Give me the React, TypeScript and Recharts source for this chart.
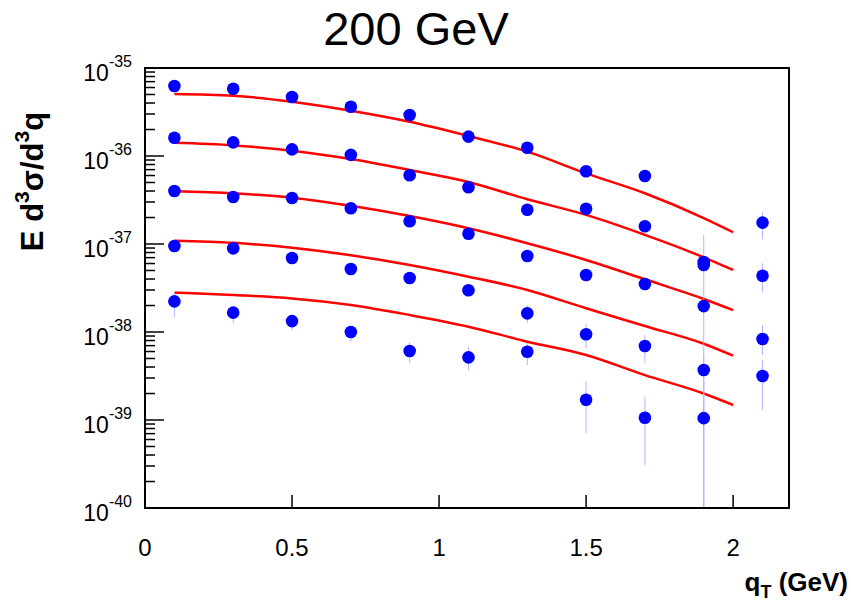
import React from "react";
import { ComposedChart, XAxis, YAxis, Line, Scatter, ErrorBar, ReferenceArea } from "recharts";

// measured points, qT in GeV
const qT = [0.1, 0.3, 0.5, 0.7, 0.9, 1.1, 1.3, 1.5, 1.7, 1.9, 2.1];
const set1 = [6.24e-36, 5.82e-36, 4.68e-36, 3.63e-36, 2.92e-36, 1.66e-36, 1.24e-36, 6.7e-37, 5.93e-37, 6.24e-38, 1.75e-37];
const set2 = [1.61e-36, 1.43e-36, 1.19e-36, 1.03e-36, 6.04e-37, 4.41e-37, 2.45e-37, 2.52e-37, 1.59e-37, 5.77e-38, 4.36e-38];
const set3 = [4.0e-37, 3.42e-37, 3.33e-37, 2.55e-37, 1.81e-37, 1.31e-37, 7.31e-38, 4.45e-38, 3.51e-38, 1.97e-38, 8.32e-39];
const set4 = [9.48e-38, 8.93e-38, 6.93e-38, 5.2e-38, 4.11e-38, 2.98e-38, 1.63e-38, 9.42e-39, 6.93e-39, 3.7e-39, 3.16e-39];
const set5 = [2.23e-38, 1.66e-38, 1.33e-38, 1.0e-38, 6.08e-39, 5.15e-39, 5.97e-39, 1.7e-39, 1.06e-39, 1.05e-39, null];

// error bar bounds (null = too small to see); 1e-40 = runs off the bottom
const low1 = [null, null, null, null, null, null, null, null, null, 1e-40, 1.13e-37];
const high1 = [null, null, null, null, null, null, null, null, null, 1.26e-37, 2.33e-37];
const low2 = [null, null, null, null, null, null, null, null, null, null, 2.8e-38];
const high2 = [null, null, null, null, null, null, null, null, null, null, 6.04e-38];
const low3 = [null, null, null, null, null, null, null, null, null, null, 5.48e-39];
const high3 = [null, null, null, null, null, null, null, null, null, null, 1.2e-38];
const low4 = [null, null, null, null, null, null, 1.26e-38, 6.53e-39, 4.41e-39, 1e-40, 1.3e-39];
const high4 = [null, null, null, null, null, null, 2.03e-38, 1.23e-38, 9.24e-39, 5.5e-39, 4.81e-39];
const low5 = [1.48e-38, 1.26e-38, 1.05e-38, 7.76e-39, 4.41e-39, 3.7e-39, 4.22e-39, 7.06e-40, 3.08e-40, 1e-40, null];
const high5 = [2.77e-38, 1.94e-38, 1.56e-38, 1.15e-38, 7.64e-39, 6.81e-39, 7.5e-39, 2.72e-39, 1.84e-39, 2.85e-39, null];

// model curves
const curveQ = [0.1, 0.3, 0.5, 0.7, 0.9, 1.1, 1.3, 1.5, 1.7, 1.9, 2.0];
const fit1 = [5.07e-36, 4.84e-36, 4.14e-36, 3.27e-36, 2.45e-36, 1.69e-36, 1.12e-36, 6.35e-37, 3.77e-37, 1.97e-37, 1.36e-37];
const fit2 = [1.41e-36, 1.32e-36, 1.15e-36, 9.24e-37, 6.93e-37, 5.07e-37, 3.22e-37, 2.14e-37, 1.27e-37, 7.06e-38, 5.07e-38];
const fit3 = [3.97e-37, 3.77e-37, 3.36e-37, 2.72e-37, 2.08e-37, 1.51e-37, 1.02e-37, 6.58e-38, 3.97e-38, 2.37e-38, 1.77e-38];
const fit4 = [1.09e-37, 1.03e-37, 9.07e-38, 7.44e-38, 5.77e-38, 4.25e-38, 3.0e-38, 1.86e-38, 1.17e-38, 7.36e-39, 5.38e-39];
const fit5 = [2.8e-38, 2.63e-38, 2.41e-38, 2.03e-38, 1.56e-38, 1.15e-38, 7.76e-39, 5.48e-39, 3.24e-39, 2.0e-39, 1.48e-39];

const xTicks = [0, 0.5, 1, 1.5, 2];
const yDecades = [1e-40, 1e-39, 1e-38, 1e-37, 1e-36, 1e-35];

const X_MAX = 2.19;
const FONT = "'Liberation Sans', Arial, Helvetica, sans-serif";

// 2..9 x 10^n minor ticks between the decades
const yTicks: number[] = [];
yDecades.forEach((d, i) => {
  yTicks.push(d);
  if (i < yDecades.length - 1) for (let k = 2; k <= 9; k++) yTicks.push(k * d);
});

function buildPoints(values: (number | null)[], lows: (number | null)[], highs: (number | null)[]) {
  return qT
    .map((x, i) => {
      const y = values[i];
      if (y == null) return null;
      const lo = lows[i];
      const hi = highs[i];
      return { x, y, err: lo == null || hi == null ? [0, 0] : [y - lo, hi - y] };
    })
    .filter(Boolean);
}

const buildCurve = (values: number[]) => curveQ.map((x, i) => ({ x, y: values[i] }));

const points = [
  buildPoints(set1, low1, high1),
  buildPoints(set2, low2, high2),
  buildPoints(set3, low3, high3),
  buildPoints(set4, low4, high4),
  buildPoints(set5, low5, high5),
];
const curves = [fit1, fit2, fit3, fit4, fit5].map(buildCurve);

const YTick = (props: any) => {
  const { x, y, payload } = props;
  const v = payload.value;
  const exp = Math.round(Math.log10(v));
  const major = Math.abs(Math.log10(v) - exp) < 1e-6;
  return (
    <g>
      <line x1={x} x2={x + (major ? 19 : 10)} y1={y} y2={y} stroke="#000" strokeWidth={1.5} />
      {major && (
        <text x={x - 13} y={y + 13} textAnchor="end" fontFamily={FONT} fontSize={23} fill="#000">
          10
          <tspan dy={-14} fontSize={16}>
            {exp}
          </tspan>
        </text>
      )}
    </g>
  );
};

const XTick = (props: any) => {
  const { x, y, payload } = props;
  return (
    <g>
      <line x1={x} x2={x} y1={y} y2={y - 13} stroke="#000" strokeWidth={1.5} />
      <text x={x} y={y + 48} textAnchor="middle" fontFamily={FONT} fontSize={24} fill="#000">
        {payload.value}
      </text>
    </g>
  );
};

export default function App() {
  return (
    <div style={{ position: "absolute", left: 0, top: 0, width: 851, height: 611, background: "#fff" }}>
      <ComposedChart width={851} height={611} margin={{ top: 68, right: 62, bottom: 0, left: 0 }}>
        <XAxis
          type="number"
          dataKey="x"
          domain={[0, X_MAX]}
          ticks={xTicks}
          interval={0}
          height={103}
          tickLine={false}
          tickSize={0}
          tickMargin={0}
          tick={<XTick />}
          axisLine={{ stroke: "#000", strokeWidth: 2 }}
          allowDataOverflow
        />
        <YAxis
          type="number"
          dataKey="y"
          scale="log"
          domain={[1e-40, 1e-35]}
          ticks={yTicks}
          interval={0}
          width={145}
          tickLine={false}
          tickSize={0}
          tickMargin={0}
          tick={<YTick />}
          axisLine={{ stroke: "#000", strokeWidth: 2 }}
          allowDataOverflow
        />
        <ReferenceArea
          x1={0}
          x2={X_MAX}
          y1={1e-40}
          y2={1e-35}
          fill="none"
          fillOpacity={0}
          stroke="#000"
          strokeWidth={2}
          ifOverflow="visible"
        />
        {curves.map((c, i) => (
          <Line
            key={`fit-${i}`}
            data={c}
            dataKey="y"
            type="monotone"
            stroke="#ff0000"
            strokeWidth={2.5}
            dot={false}
            activeDot={false}
            isAnimationActive={false}
          />
        ))}
        {points.map((p, i) => (
          <Scatter
            key={`set-${i}`}
            data={p as any[]}
            dataKey="y"
            isAnimationActive={false}
            shape={(s: any) => <circle cx={s.cx} cy={s.cy} r={6.3} fill="#0000ff" />}
          >
            <ErrorBar dataKey="err" direction="y" width={0} stroke="#b4b4ff" strokeWidth={1} />
          </Scatter>
        ))}
      </ComposedChart>
      <svg
        width={851}
        height={611}
        style={{ position: "absolute", left: 0, top: 0, pointerEvents: "none" }}
      >
        <text x={416} y={45} textAnchor="middle" fontFamily={FONT} fontSize={47} fill="#000">
          200 GeV
        </text>
        <text
          transform="translate(43,181.5) rotate(-90)"
          textAnchor="middle"
          fontFamily={FONT}
          fontSize={31}
          fontWeight="bold"
          fill="#000"
        >
          E d
          <tspan dy={-14} fontSize={21}>
            3
          </tspan>
          <tspan dy={14}>σ/d</tspan>
          <tspan dy={-14} fontSize={21}>
            3
          </tspan>
          <tspan dy={14}>q</tspan>
        </text>
        <text x={848} y={591} textAnchor="end" fontFamily={FONT} fontSize={26} fontWeight="bold" fill="#000">
          q
          <tspan dy={7} fontSize={18}>
            T
          </tspan>
          <tspan dy={-7}> (GeV)</tspan>
        </text>
      </svg>
    </div>
  );
}
